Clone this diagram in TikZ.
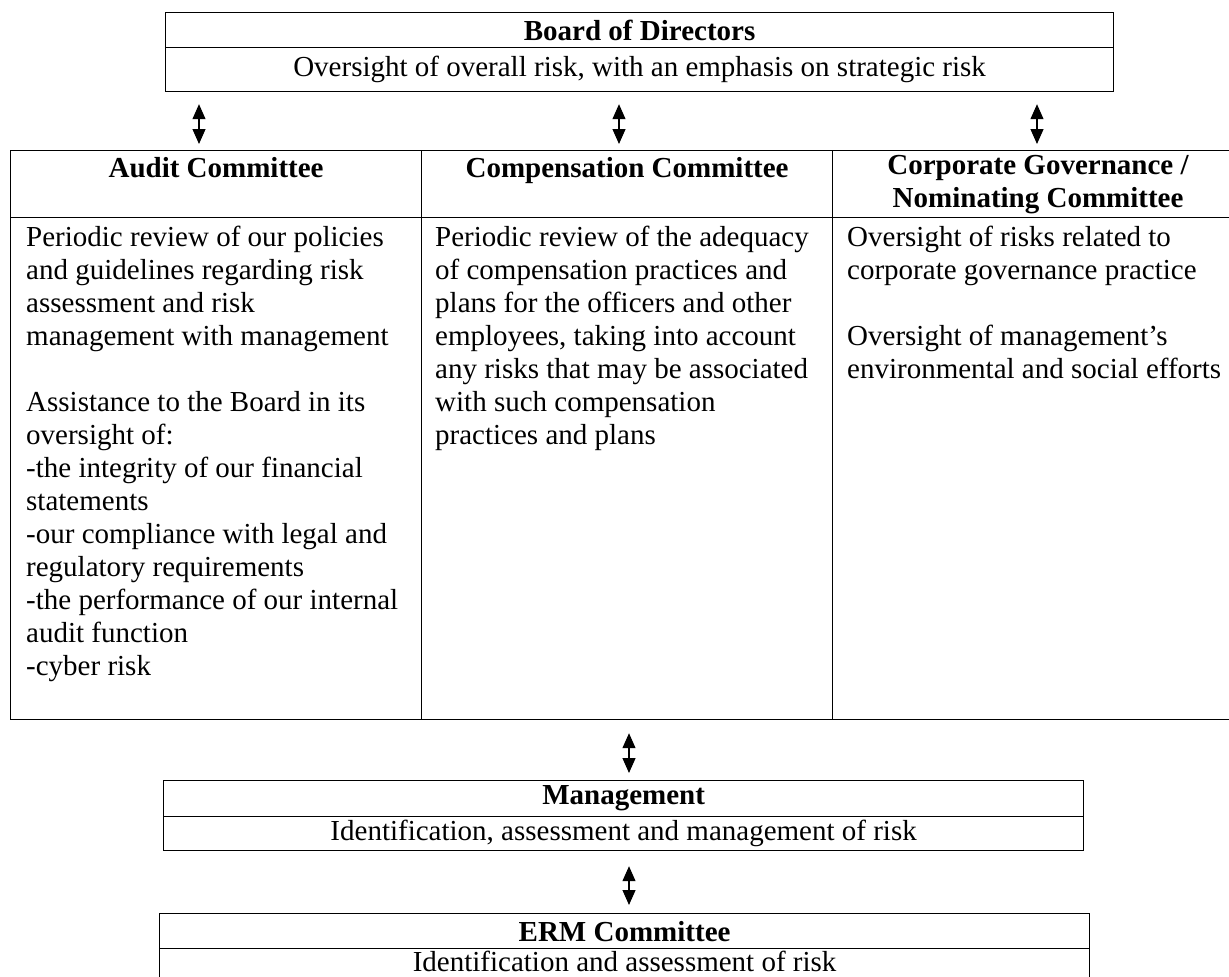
\documentclass[tikz,border=0pt]{standalone}
\usepackage{fontspec}
\setmainfont{Liberation Serif}
\usepackage{tikz}
\usetikzlibrary{arrows.meta}
\usetikzlibrary{positioning}
\usetikzlibrary{calc}

\begin{document}
\begin{tikzpicture}[x=1pt,y=-1pt,>={Triangle[width=13pt,length=15pt]},
		font=\fontsize{29pt}{33pt}\selectfont,
		cell/.style={rectangle, draw=black, line width=1.2pt, inner sep=0pt, anchor=north west},
		bodytext/.style={inner sep=0pt, anchor=north west, align=left},
		twoway/.style={<->, line width=1.2pt}]
			\useasboundingbox (0,0) rectangle (1229,977);
			% board of directors
			\node[cell, minimum width=948pt, minimum height=35pt] (boardhead) at (165,12) {\textbf{Board of Directors}};
			\node[cell, minimum width=948pt, minimum height=44pt] (boarddesc) at (165,47) {Oversight of overall risk, with an emphasis on strategic risk};
			% committees
			\node[cell, minimum width=411pt, minimum height=67pt, align=center] (audhead) at (10,150) {\textbf{Audit Committee}\\\mbox{}};
			\node[cell, minimum width=411pt, minimum height=67pt, align=center] (comphead) at (421,150) {\textbf{Compensation Committee}\\\mbox{}};
			\node[cell, minimum width=411pt, minimum height=67pt, align=center] (govhead) at (832,150) {\textbf{Corporate Governance /}\\\textbf{Nominating Committee}};
			\node[cell, minimum width=411pt, minimum height=502pt] (audbody) at (10,217) {};
			\node[cell, minimum width=411pt, minimum height=502pt] (compbody) at (421,217) {};
			\node[cell, minimum width=411pt, minimum height=502pt] (govbody) at (832,217) {};
			\node[bodytext] (audtext) at ([xshift=16pt,yshift=-9pt]audbody.north west) {Periodic review of our policies\\and guidelines regarding risk\\assessment and risk\\management with management\\[33pt]Assistance to the Board in its\\oversight of:\\-the integrity of our financial\\statements\\-our compliance with legal and\\regulatory requirements\\-the performance of our internal\\audit function\\-cyber risk};
			\node[bodytext] (comptext) at ([xshift=14pt,yshift=-9pt]compbody.north west) {Periodic review of the adequacy\\of compensation practices and\\plans for the officers and other\\employees, taking into account\\any risks that may be associated\\with such compensation\\practices and plans};
			\node[bodytext] (govtext) at ([xshift=15pt,yshift=-9pt]govbody.north west) {Oversight of risks related to\\corporate governance practice\\[33pt]Oversight of management’s\\environmental and social efforts};
			% management and erm
			\node[cell, minimum width=920pt, minimum height=36pt] (mgmthead) at (163,780) {\textbf{Management}};
			\node[cell, minimum width=920pt, minimum height=34pt] (mgmtdesc) at (163,816) {Identification, assessment and management of risk};
			\node[cell, minimum width=930pt, minimum height=35pt] (ermhead) at (159,913) {\textbf{ERM Committee}};
			\node[cell, minimum width=930pt, minimum height=34pt, text depth=9pt] (ermdesc) at (159,948) {Identification and assessment of risk};
			% arrows
			\coordinate (colA) at (199,0);
			\coordinate (colB) at (619,0);
			\coordinate (colC) at (1037,0);
			\coordinate (colD) at (629,0);
			\draw[twoway, shorten <=12pt, shorten >=6pt] (boarddesc.south -| colA) -- (audhead.north -| colA);
			\draw[twoway, shorten <=12pt, shorten >=6pt] (boarddesc.south -| colB) -- (comphead.north -| colB);
			\draw[twoway, shorten <=12pt, shorten >=6pt] (boarddesc.south -| colC) -- (govhead.north -| colC);
			\draw[twoway, shorten <=13pt, shorten >=7pt] (compbody.south -| colD) -- (mgmthead.north -| colD);
			\draw[twoway, shorten <=15pt, shorten >=8pt] (mgmtdesc.south -| colD) -- (ermhead.north -| colD);
		\end{tikzpicture}
\end{document}
